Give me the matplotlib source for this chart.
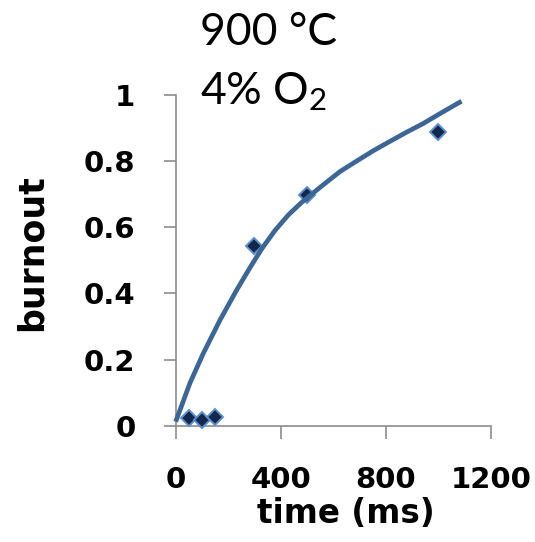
import matplotlib
matplotlib.use("Agg")
import matplotlib.pyplot as plt

# Measured burnout at each residence time
time_ms = [50, 100, 150, 300, 500, 1000]
burnout = [0.023, 0.018, 0.026, 0.543, 0.697, 0.888]

# Fitted model curve, sampled along its length
fit_time = [0, 54, 105, 169, 232, 283, 328, 378, 429, 480, 531, 562,
            626, 690, 753, 816, 880, 943, 1007, 1077, 1089]
fit_burnout = [0.013, 0.129, 0.219, 0.320, 0.410, 0.478, 0.535, 0.590,
               0.637, 0.675, 0.708, 0.728, 0.768, 0.800, 0.831, 0.859,
               0.887, 0.913, 0.943, 0.975, 0.980]

x_ticks = [0, 400, 800, 1200]
y_ticks = [0, 0.2, 0.4, 0.6, 0.8, 1.0]
y_tick_labels = ["0", "0.2", "0.4", "0.6", "0.8", "1"]

plt.rcParams["font.family"] = ["Lato", "DejaVu Sans"]
plt.rcParams["mathtext.fontset"] = "custom"
plt.rcParams["mathtext.rm"] = "Lato"
plt.rcParams["mathtext.it"] = "Lato:italic"
plt.rcParams["mathtext.bf"] = "Lato:bold"

label_font = ["DejaVu Sans"]

fig = plt.figure(figsize=(5.35, 5.42), dpi=100)
ax = fig.add_axes([0.3284, 0.2140, 0.5888, 0.6113])

ax.plot(time_ms, burnout, linestyle="none", marker="D", markersize=8.6,
        markerfacecolor="#13284a", markeredgecolor="#5b8fd0",
        markeredgewidth=1.4, zorder=3, clip_on=False)
ax.plot(fit_time, fit_burnout, color="#3c6696", linewidth=3.4,
        solid_capstyle="butt", solid_joinstyle="round", zorder=4,
        clip_on=False)

ax.set_xlim(0, 1200)
ax.set_ylim(0, 1)
ax.set_xticks(x_ticks)
ax.set_xticklabels([str(t) for t in x_ticks])
ax.set_yticks(y_ticks)
ax.set_yticklabels(y_tick_labels)

for side in ("top", "right"):
    ax.spines[side].set_visible(False)
for side in ("left", "bottom"):
    ax.spines[side].set_color("#8c8c8c")
    ax.spines[side].set_linewidth(1.2)

ax.tick_params(axis="both", direction="out", length=9, width=1.2,
               color="#8c8c8c", labelsize=21, pad=20)
for lbl in ax.get_xticklabels() + ax.get_yticklabels():
    lbl.set_fontweight("bold")
    lbl.set_family(label_font)

fig.text(0.06, 0.533, "burnout", rotation=90, ha="center", va="center",
         fontsize=25, fontweight="bold", family=label_font)
fig.text(0.647, 0.052, "time (ms)", ha="center", va="center",
         fontsize=23.5, fontweight="bold", family=label_font)

fig.text(0.374, 0.917, "900 °C", ha="left", va="baseline", fontsize=32)
fig.text(0.374, 0.808, "4% O$_2$", ha="left", va="baseline", fontsize=32)

fig.savefig("out.png", dpi=100)
